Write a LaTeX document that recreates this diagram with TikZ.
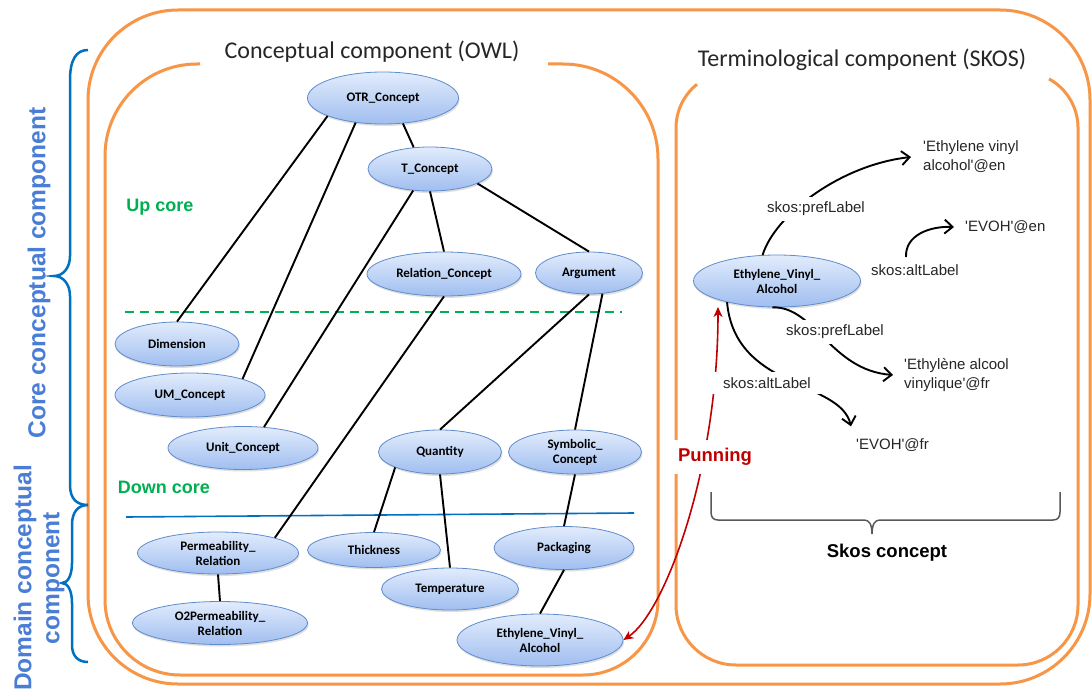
\documentclass[tikz,border=0pt]{standalone}
\usepackage{fontspec}
\setmainfont{Carlito}
\newfontfamily\arialf{Liberation Sans}
\usetikzlibrary{shapes.geometric,arrows.meta,shadows,calc}
\definecolor{org}{RGB}{247,150,70}
\definecolor{grn}{RGB}{0,176,80}
\definecolor{bln}{RGB}{0,112,192}
\definecolor{blt}{RGB}{74,126,214}
\definecolor{redp}{RGB}{192,0,0}
\definecolor{ellb}{RGB}{95,140,205}
\definecolor{elltop}{RGB}{226,236,252}
\definecolor{ellbot}{RGB}{160,190,240}
\definecolor{gbr}{RGB}{89,89,89}
\definecolor{ttl}{RGB}{38,38,38}
\begin{document}
\begin{tikzpicture}[x=1pt,y=-1pt,
  concept/.style={ellipse, draw=ellb, line width=0.8pt, top color=elltop, bottom color=ellbot,
    inner sep=0pt, font=\fontsize{13}{15}\selectfont\bfseries, align=center,
    drop shadow={shadow xshift=1pt,shadow yshift=-2pt,opacity=0.25}},
  link/.style={line width=1.9pt, black},
  frame/.style={draw=org, line width=3pt},
  title/.style={font=\fontsize{24}{28}\selectfont, text=ttl, inner sep=0pt},
  grnlbl/.style={font=\arialf\bfseries\fontsize{18}{21}\selectfont, text=grn, inner sep=0pt},
  sidelbl/.style={font=\arialf\bfseries\fontsize{24.5}{28}\selectfont, text=blt, inner sep=0pt, rotate=90, align=center},
  skl/.style={font=\arialf\fontsize{15}{18}\selectfont, text=ttl, fill=white, inner xsep=4pt, inner ysep=5pt},
  tgt/.style={font=\arialf\fontsize{15}{19}\selectfont, text=ttl, inner sep=0pt, anchor=west, align=left},
  curv/.style={line width=1.9pt, black, -{Straight Barb[length=8pt,width=14pt]}},
  redarr/.style={line width=1.6pt, redp, {Stealth[length=10pt,width=9pt,inset=3pt]}-{Stealth[length=10pt,width=9pt,inset=3pt]}}
]
\useasboundingbox (0,0) rectangle (1092,690);
\fill[white] (0,0) rectangle (1092,690);

% frames
\draw[frame, rounded corners=90] (88,10) rectangle (1090,684);
\draw[frame] (548,64) -- (563,64) arc[start angle=-90, end angle=0, radius=95]
  -- (658,600) arc[start angle=0, end angle=90, radius=75]
  -- (180,675) arc[start angle=90, end angle=180, radius=75]
  -- (105,156) arc[start angle=180, end angle=270, radius=92] -- (200,64);
\draw[frame] (1049,78.9) arc[start angle=-61.2, end angle=0, radius=56]
  -- (1078,605) arc[start angle=0, end angle=90, radius=60]
  -- (736,665) arc[start angle=90, end angle=180, radius=60]
  -- (676,128) arc[start angle=180, end angle=231.3, radius=56];

% titles
\node[title] (tcon) at (372,52) {Conceptual component (OWL)};
\node[title] (tterm) at (862,60) {Terminological component (SKOS)};

% core separators
\draw[grn, line width=1.6pt, dash pattern=on 9pt off 6pt] (125,312) -- (622,312);
\draw[bln, line width=1.6pt] (126,517) -- (634,513);
\node[grnlbl] (up) at (160,207) {Up core};
\node[grnlbl] (down) at (164,487) {Down core};

% side braces and labels
\draw[bln, line width=2.5pt] (88,50) .. controls (76,50) and (70,60) .. (70,80) -- (70,256)
  .. controls (70,268) and (63,276) .. (54,276) .. controls (63,276) and (70,284) .. (70,296)
  -- (70,485) .. controls (70,499) and (77,505) .. (88,505);
\draw[bln, line width=2.5pt] (88,505) .. controls (78,505) and (72,512) .. (72,525) -- (72,563)
  .. controls (72,575) and (68,583) .. (62,583) .. controls (68,583) and (72,591) .. (72,603)
  -- (72,645) .. controls (72,656) and (78,662) .. (88,662);
\node[sidelbl] (core) at (39,273) {Core conceptual component};
\node[sidelbl] (dom) at (39,578) {Domain conceptual\\component};

% concept nodes
\node[concept, minimum width=151pt, minimum height=52pt] (otr) at (383,98) {OTR\_Concept};
\node[concept, minimum width=124pt, minimum height=44pt] (tc) at (430,169) {T\_Concept};
\node[concept, minimum width=154pt, minimum height=44pt] (rc) at (444,274) {Relation\_Concept};
\node[concept, minimum width=107pt, minimum height=42pt] (arg) at (589,273) {Argument};
\node[concept, minimum width=124pt, minimum height=44pt] (dim) at (177,344) {Dimension};
\node[concept, minimum width=150pt, minimum height=44pt] (um) at (190,395) {UM\_Concept};
\node[concept, minimum width=150pt, minimum height=43pt] (unit) at (243,448) {Unit\_Concept};
\node[concept, minimum width=123pt, minimum height=44pt] (qty) at (440,452) {Quantity};
\node[concept, minimum width=133pt, minimum height=44pt] (sym) at (575,452) {Symbolic\_\\Concept};
\node[concept, minimum width=161pt, minimum height=42pt] (perm) at (218,553) {Permeability\_\\Relation};
\node[concept, minimum width=133pt, minimum height=35pt] (thick) at (374,550) {Thickness};
\node[concept, minimum width=137pt, minimum height=42pt] (temp) at (450,589) {Temperature};
\node[concept, minimum width=140pt, minimum height=43pt] (pack) at (564,548) {Packaging};
\node[concept, minimum width=175pt, minimum height=43pt] (o2) at (220,623) {O2Permeability\_\\Relation};
\node[concept, minimum width=166pt, minimum height=52pt] (evaL) at (540,640) {Ethylene\_Vinyl\_\\Alcohol};
\node[concept, minimum width=167pt, minimum height=52pt] (evaR) at (777,281) {Ethylene\_Vinyl\_\\Alcohol};

% hierarchy links
\draw[link] (otr.198.4) -- (dim.north);
\draw[link] (otr.222.4) -- (um.17);
\draw[link] (otr.-52.4) -- (tc.127.7);
\draw[link] (tc.232.3) -- (unit.45);
\draw[link] (tc.south) -- (rc.north);
\draw[link] (tc.-17.65) -- (arg.north);
\draw[link] (rc.south) -- (perm.15.7);
\draw[link] (arg.south) -- (qty.north);
\draw[link] (arg.-57.5) -- (sym.north);
\draw[link] (qty.199.6) -- (thick.north);
\draw[link] (qty.south) -- (temp.north);
\draw[link] (sym.south) -- (pack.north);
\draw[link] (pack.south) -- (evaL.north);
\draw[link] (perm.south) -- (o2.north);

% SKOS targets
\node[tgt] (t1) at (923,157) {\textquotesingle Ethylene vinyl\\alcohol\textquotesingle @en};
\node[tgt] (t2) at (965,227) {\textquotesingle EVOH\textquotesingle @en};
\node[tgt] (t3) at (904,375) {\textquotesingle Ethylène alcool\\vinylique\textquotesingle @fr};
\node[tgt] (t4) at (856,445) {\textquotesingle EVOH\textquotesingle @fr};

% label positions
\coordinate (pl1c) at (816,209);
\coordinate (al1c) at (915,270);
\coordinate (pl2c) at (835,332);
\coordinate (al2c) at (767,383);

% SKOS curves
\draw[curv] (evaR.119) .. controls (775,215) and (840,165) .. ([xshift=-12pt]t1.west);
\draw[curv] ($(al1c)+(-9,-13)$) .. controls (905,235) and (930,226) .. ([xshift=-11pt]t2.west);
\draw[curv] (evaR.-100) .. controls (815,306) and (830,370) .. ([xshift=-11pt]t3.west);
\draw[curv] (evaR.203) .. controls (735,390) and (840,380) .. ($(t4.north west)+(-5,-12)$);

% punning
\coordinate (pun) at ($(evaR.center)+(-59,26)$);
\draw[redarr] (evaL.east) .. controls (665,612) and (718,470) .. (pun);

\node[skl] (pl1) at (pl1c) {skos:prefLabel};
\node[skl] (al1) at (al1c) {skos:altLabel};
\node[skl] (pl2) at (pl2c) {skos:prefLabel};
\node[skl, inner xsep=11pt] (al2) at (al2c) {skos:altLabel};
\node[font=\arialf\bfseries\fontsize{18.5}{21}\selectfont, text=redp, fill=white, inner xsep=5pt, inner ysep=8pt] (punl) at (715,457) {Punning};

% skos concept brace
\draw[gbr, line width=1.5pt] (711,492) -- (711,512) .. controls (711,517) and (713,520) .. (718,520)
  -- (864,520) .. controls (869,520) and (872,524) .. (872,534) .. controls (872,524) and (875,520) .. (880,520)
  -- (1053,520) .. controls (1058,520) and (1060,517) .. (1060,512) -- (1060,492);
\node[font=\arialf\bfseries\fontsize{18.5}{21}\selectfont, text=black] (skc) at (887,553) {Skos concept};
\end{tikzpicture}
\end{document}
